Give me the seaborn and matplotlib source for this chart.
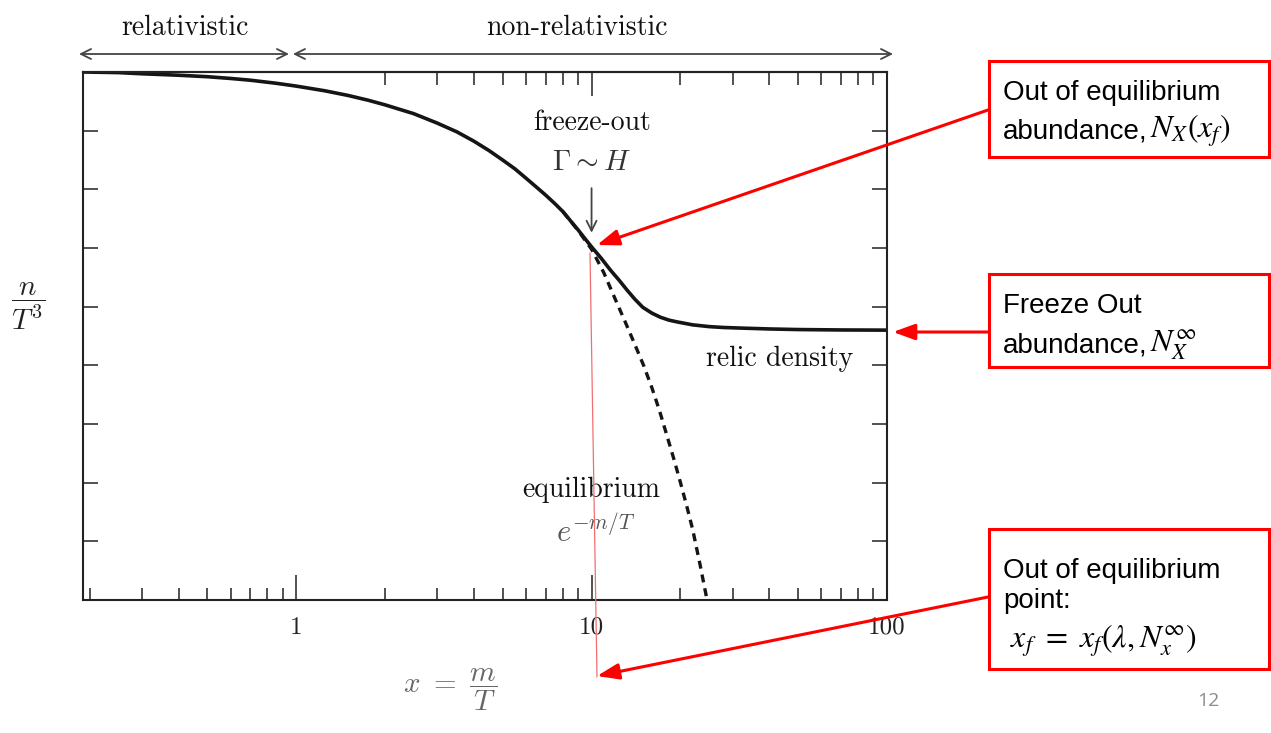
import matplotlib
matplotlib.use("Agg")
import matplotlib.pyplot as plt
import seaborn as sns
from matplotlib.patches import Rectangle
from matplotlib.lines import Line2D
from matplotlib.ticker import NullFormatter

# ---------------- data ----------------
x_solid = [0.19, 0.25, 0.3, 0.4, 0.5, 0.6, 0.7, 0.85, 1, 1.25, 1.5, 1.75, 2, 2.5,
           3, 3.5, 4, 4.5, 5, 5.5, 6, 6.5, 7, 7.5, 8, 8.5, 9, 9.5, 10, 10.8, 11.6,
           12.4, 13.2, 14.0, 14.9, 16.0, 17.1, 18.3, 19.5, 22, 25, 28, 32, 40, 50,
           70, 100]
y_solid = [9.0, 8.99, 8.97, 8.945, 8.92, 8.89, 8.86, 8.81, 8.76, 8.68, 8.60, 8.52,
           8.44, 8.29, 8.13, 7.98, 7.82, 7.66, 7.50, 7.35, 7.19, 7.04, 6.90, 6.76,
           6.62, 6.46, 6.31, 6.16, 6.02, 5.82, 5.62, 5.45, 5.28, 5.13, 4.99, 4.89,
           4.82, 4.77, 4.74, 4.69, 4.66, 4.645, 4.635, 4.62, 4.61, 4.603, 4.60]

x_equil = [8, 9, 10, 11, 12, 13, 14, 15, 16, 17, 18, 19, 20, 21, 22, 23.3, 24.6]
y_equil = [6.62, 6.30, 5.98, 5.58, 5.14, 4.74, 4.36, 4.00, 3.62, 3.22, 2.80, 2.40,
           2.00, 1.60, 1.20, 0.60, 0.0]

major_ticks = [1, 10, 100]
major_labels = ["1", "10", "100"]
minor_bottom = [0.2, 0.3, 0.4, 0.5, 0.6, 0.7, 0.8, 0.9,
                2, 3, 4, 5, 6, 7, 8, 9, 20, 30, 40, 50, 60, 70, 80, 90]
minor_top = [2, 3, 4, 5, 6, 7, 8, 9, 20, 30, 40, 50, 60, 70, 80, 90]
y_ticks = list(range(0, 10))

# ---------------- style ----------------
sns.set_theme(style="ticks")
plt.rcParams["font.family"] = ["DejaVu Sans"]
plt.rcParams["mathtext.fontset"] = "cm"
plt.rcParams["axes.unicode_minus"] = False

W, H = 1271, 733
fig = plt.figure(figsize=(W / 100, H / 100), dpi=100)
fig.patch.set_facecolor("white")


def P(px, py):
    return (px / W, 1 - py / H)


ax = fig.add_axes([83 / W, 1 - 600 / H, (887 - 83) / W, (600 - 72) / H])
ax.set_facecolor("white")

sns.lineplot(x=x_solid, y=y_solid, ax=ax, color="#151515", lw=2.6)
sns.lineplot(x=x_equil, y=y_equil, ax=ax, color="#151515", lw=2.4)
ax.lines[-1].set_dashes([2.4, 1.8])

ax.set_xscale("log")
ax.set_xlim(0.19, 100)
ax.set_ylim(0, 9)

ax.set_xticks(major_ticks)
ax.set_xticklabels(major_labels, fontfamily="cmr10", fontsize=18, color="#222")
ax.set_xticks(minor_bottom, minor=True)
ax.xaxis.set_minor_formatter(NullFormatter())
ax.tick_params(axis="x", which="major", direction="in", length=18, width=1.2,
               color="#333", pad=12, top=False)
ax.tick_params(axis="x", which="minor", direction="in", length=9, width=1.2,
               color="#333", top=False)
ax.set_yticks(y_ticks)
ax.set_yticklabels([])
ax.tick_params(axis="y", which="major", direction="in", length=11, width=1.2,
               color="#333", left=True, right=True)
ax.set_xlabel("")
ax.set_ylabel("")
for s in ax.spines.values():
    s.set_visible(True)
    s.set_color("#222")
    s.set_linewidth(1.5)

sec = ax.secondary_xaxis("top")
sec.set_xticks([10])
sec.set_xticks(minor_top, minor=True)
sec.set_xticklabels([])
sec.xaxis.set_minor_formatter(NullFormatter())
sec.tick_params(which="major", direction="in", length=17, width=1.2, color="#333")
sec.tick_params(which="minor", direction="in", length=9, width=1.2, color="#333")
sec.spines["top"].set_color("#222")
sec.spines["top"].set_linewidth(1.5)

# ---------------- annotations inside axes ----------------
cm = dict(fontfamily="cmr10", fontsize=20, ha="center", va="baseline", color="#111")
ax.text(10, 8.01, "freeze-out", **cm)
ax.text(10, 7.33, r"$\Gamma \sim H$", fontsize=21, ha="center", va="baseline", color="#333")
ax.annotate("", xy=(10, 6.26), xytext=(10, 7.02),
            arrowprops=dict(arrowstyle="->,head_length=0.6,head_width=0.3",
                            color="#444", lw=1.3, shrinkA=0, shrinkB=0))
ax.text(10, 1.76, "equilibrium", **cm)
ax.text(10.3, 0.99, r"$e^{-m/T}$", fontsize=22, ha="center", va="baseline", color="#555")
ax.text(43.4, 3.99, "relic density", **cm)

# ---------------- annotations outside axes ----------------
fig.text(*P(185, 35), "relativistic", **cm)
fig.text(*P(577, 35), "non-relativistic", **cm)
arrow_kw = dict(arrowstyle="<->,head_length=0.6,head_width=0.3", color="#444",
                lw=1.3, shrinkA=0, shrinkB=0)
ax.annotate("", xy=P(79, 54), xytext=P(289, 54), xycoords="figure fraction",
            textcoords="figure fraction", arrowprops=arrow_kw)
ax.annotate("", xy=P(293, 54), xytext=P(893, 54), xycoords="figure fraction",
            textcoords="figure fraction", arrowprops=arrow_kw)

fig.text(*P(28, 306), r"$\dfrac{n}{T^3}$", fontsize=21, ha="center", va="center", color="#222")
fig.text(*P(450, 690), r"$x\ =\ \dfrac{m}{T}$", fontsize=21, ha="center", va="center", color="#666")

# thin red guide line
a, b = P(590, 253), P(597, 677)
fig.add_artist(Line2D([a[0], b[0]], [a[1], b[1]], color="#f07070", lw=0.9))

# red callout arrows
red_kw = dict(arrowstyle="-|>,head_length=1.1,head_width=0.4", color="#ff0000",
              lw=2.2, shrinkA=0, shrinkB=0)
for tip, tail in [((597, 245), (988, 110)), ((893, 332), (989, 332)),
                  ((597, 676), (988, 597))]:
    ax.annotate("", xy=P(*tip), xytext=P(*tail), xycoords="figure fraction",
                textcoords="figure fraction", arrowprops=red_kw)

# red boxes
for (x0, y0, x1, y1) in [(989, 61, 1269, 157), (989, 274, 1269, 367), (989, 529, 1269, 669)]:
    fig.add_artist(Rectangle(P(x0, y1), (x1 - x0) / W, (y1 - y0) / H,
                             transform=fig.transFigure, facecolor="white",
                             edgecolor="#ff0000", lw=2.2, zorder=3))

bx = dict(fontfamily="Liberation Sans", fontsize=20, ha="left", va="baseline",
          color="black", zorder=4)
mx = dict(fontsize=23, ha="left", va="baseline", color="black",
          math_fontfamily="stix", zorder=4)
fig.text(*P(1003, 100), "Out of equilibrium", **bx)
fig.text(*P(1003, 138), "abundance,", **bx)
fig.text(*P(1150, 138), r"$N_X(x_f)$", **mx)
fig.text(*P(1003, 313), "Freeze Out", **bx)
fig.text(*P(1003, 352), "abundance,", **bx)
fig.text(*P(1150, 352), r"$N_X^{\infty}$", **mx)
fig.text(*P(1003, 578), "Out of equilibrium", **bx)
fig.text(*P(1003, 608), "point:", **bx)
fig.text(*P(1010, 648), r"$x_f\ =\ x_f(\lambda, N_x^{\infty})$", **mx)

fig.text(*P(1208, 706), "12", fontfamily="Open Sans", fontsize=14, color="#8c8c8c",
         ha="center", va="baseline")

fig.savefig("out.png", dpi=100, facecolor="white")
